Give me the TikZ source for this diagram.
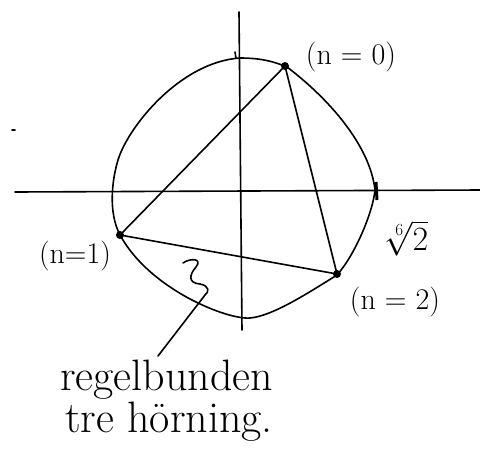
\RequirePackage{fix-cm}
\documentclass[tikz,border=0pt]{standalone}
\begin{document}
\begin{tikzpicture}[x=1pt,y=-1pt,
  pen/.style={line width=1.6pt,line cap=round,line join=round},
  vtx/.style={circle,fill=black,inner sep=0pt,minimum size=8pt},
  lbl/.style={font=\fontsize{30}{36}\selectfont,inner sep=0pt},
  txt/.style={font=\fontsize{44}{50}\selectfont,inner sep=0pt,anchor=base west}]
\useasboundingbox (0,0) rectangle (480,459);
% axes
\draw[pen] (15,192) -- (480,190);
\draw[pen] (239,12) -- (242,330);
% curve
\draw[pen] (240,58)
 .. controls (262,58) and (275,62) .. (287,67)
 .. controls (328,98) and (370,145) .. (375,190)
 .. controls (373,212) and (355,255) .. (337,275)
 .. controls (305,295) and (272,316) .. (250,318)
 .. controls (228,320) and (150,290) .. (120,235)
 .. controls (108,212) and (112,180) .. (118,160)
 .. controls (128,127) and (180,62) .. cycle;
% ticks and marks
\draw[pen] (235,52) -- (236,58);
\draw[line width=3pt] (376,182) -- (377,200);
\draw[pen] (12,130) -- (15,130);
% vertices
\node[vtx] (p0) at (285,66) {};
\node[vtx] (p1) at (120,235) {};
\node[vtx] (p2) at (337,274) {};
\draw[pen] (p0.center) -- (p1.center) -- (p2.center) -- cycle;
% labels
\node[lbl] (l0) at (351,57) {(n = 0)};
\node[lbl] (l1) at (75,256) {(n=1)};
\node[lbl] (l2) at (395,302) {(n = 2)};
\node[lbl,font=\fontsize{34}{40}\selectfont] (r) at (407,238) {$\sqrt[6]{2}$};
% squiggle and leader
\coordinate (s0) at (183,263);
\coordinate (s1) at (158,356);
\draw[pen] (s0) .. controls (190,258) and (203,258) .. (196,267)
  .. controls (189,275) and (188,283) .. (200,284)
  .. controls (210,286) and (209,292) .. (205,295) -- (s1);
% text
\node[txt] (t1) at (60,390) {regelbunden};
\node[txt] (t2) at (65,432) {tre hörning.};
\end{tikzpicture}
\end{document}
